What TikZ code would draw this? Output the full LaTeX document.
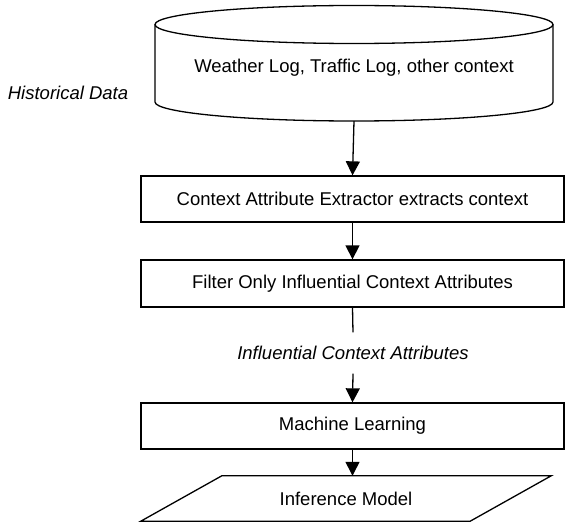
\documentclass[tikz,border=0pt]{standalone}
\usepackage{fontspec}
\setmainfont{Liberation Sans}
\usepackage{tikz}
\usetikzlibrary{arrows.meta,positioning,shapes.geometric}
\tikzset{
  txt/.style     = {font=\fontsize{18.5}{22}\selectfont, inner sep=0pt},
  stepbox/.style = {txt, draw, line width=1.3pt, minimum width=423pt,
                    minimum height=46pt, align=center},
  dbbox/.style   = {txt, minimum width=398pt, minimum height=106pt},
  outbox/.style  = {txt, minimum width=329pt, minimum height=45pt},
  note/.style    = {txt, font=\fontsize{18.5}{22}\selectfont\itshape},
  edge/.style    = {line width=1.3pt},
  flow/.style    = {-{Triangle[length=14pt,width=14pt]}, line width=1.3pt},
}
\begin{document}
\begin{tikzpicture}[x=1pt,y=-1pt]
  \useasboundingbox (0,0) rectangle (574,527);
  % data store
  \node[dbbox] (db) at (354,68) {Weather Log, Traffic Log, other context};
  \draw[edge] ([shift={(-199pt,43.5pt)}]db.center) -- ([shift={(-199pt,-34pt)}]db.center)
    arc[start angle=180, end angle=360, x radius=199pt, y radius=19pt]
    -- ([shift={(199pt,43.5pt)}]db.center);
  \draw[edge] ([yshift=43.5pt]db.center) ellipse [x radius=199pt, y radius=19pt];
  \node[note] (histlbl) at (68,93) {Historical Data};
  % steps
  \node[stepbox] (extract) at (352.5,199) {Context Attribute Extractor extracts context};
  \node[stepbox, minimum height=47pt] (filter) at (352.5,283.5) {Filter Only Influential Context Attributes};
  \node[note, minimum height=41pt] (inflbl) at (353,353) {Influential Context Attributes};
  \node[stepbox] (ml) at (352.5,426) {Machine Learning};
  \node[outbox] (model) at (346,498.5) {Inference Model};
  \draw[edge, line join=miter] ([xshift=40.5pt]model.north west) -- ([xshift=40.5pt]model.north east)
    -- ([xshift=-40.5pt]model.south east) -- ([xshift=-40.5pt]model.south west) -- cycle;
  % connectors
  \draw[flow] (db.south) -- (extract.north);
  \draw[flow] (extract.south) -- (filter.north);
  \draw[edge] (filter.south) -- (inflbl.north);
  \draw[flow] (inflbl.south) -- (ml.north);
  \draw[flow] (ml.south) -- (ml.south |- model.north);
\end{tikzpicture}
\end{document}
